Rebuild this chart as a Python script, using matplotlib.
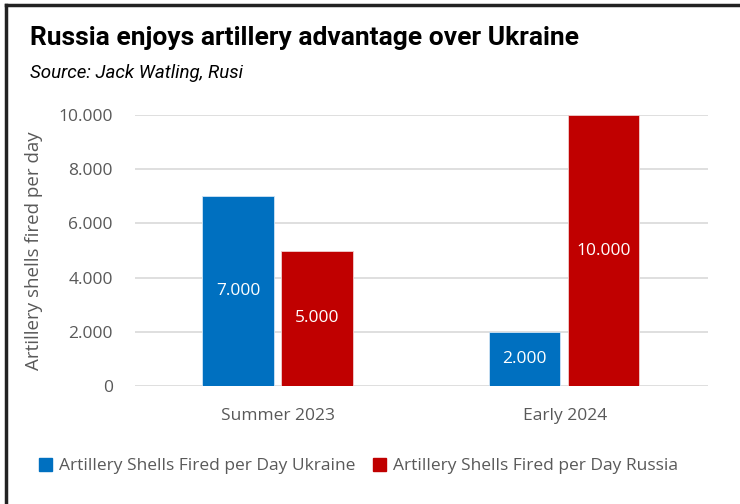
import numpy as np
import matplotlib
matplotlib.use("Agg")
import matplotlib.pyplot as plt
from matplotlib.lines import Line2D
from matplotlib.patches import Patch

# data
periods = ["Summer 2023", "Early 2024"]
ukraine = [7000, 2000]
russia = [5000, 10000]
series_names = ["Artillery Shells Fired per Day Ukraine",
                "Artillery Shells Fired per Day Russia"]
yticks = [0, 2000, 4000, 6000, 8000, 10000]

blue = "#0070C0"
red = "#C00000"
grey = "#595959"

plt.rcParams['font.family'] = ['Open Sans', 'DejaVu Sans']

fig = plt.figure(figsize=(7.4, 5.04), dpi=100)
ax = fig.add_axes([0.1824, 0.2341, 0.7743, 0.5377])

x = np.arange(len(periods))
w = 0.25
b1 = ax.bar(x - 0.14, ukraine, w, color=blue, edgecolor="#d0e4f5", linewidth=0.6, zorder=3)
b2 = ax.bar(x + 0.135, russia, w, color=red, edgecolor="#f0d0d0", linewidth=0.6, zorder=3)

for bars, vals in ((b1, ukraine), (b2, russia)):
    for r, v in zip(bars, vals):
        ax.text(r.get_x() + r.get_width() / 2, v / 2, f"{v:,}".replace(",", "."),
                ha="center", va="center", color="white", fontsize=12.5, zorder=4)

ax.set_xlim(-0.5, 1.5)
ax.set_ylim(0, 10000)
ax.set_yticks(yticks)
ax.set_yticklabels([f"{t:,}".replace(",", ".") for t in yticks])
ax.set_xticks(x)
ax.set_xticklabels(periods)
ax.tick_params(axis="both", length=0, colors=grey, labelsize=12.5)
ax.tick_params(axis="y", pad=16)
ax.tick_params(axis="x", pad=16)
ax.yaxis.grid(True, color="#d9d9d9", linewidth=1.2, zorder=0)
ax.set_axisbelow(True)
for s in ax.spines.values():
    s.set_visible(False)
ax.set_ylabel("Artillery shells fired per day", color=grey, fontsize=13.5)
ax.yaxis.set_label_coords(-0.16, 0.5)

fig.text(0.041, 0.925, "Russia enjoys artillery advantage over Ukraine",
         fontsize=19, fontweight="bold", color="black", va="center",
         family=["Roboto", "DejaVu Sans"])
fig.text(0.041, 0.855, "Source: Jack Watling, Rusi", fontsize=13.5,
         style="italic", color="black", va="center",
         family=["Roboto", "DejaVu Sans"])

handles = [Patch(color=blue), Patch(color=red)]
fig.legend(handles, series_names, loc="center left", bbox_to_anchor=(0.032, 0.075),
           ncol=2, frameon=False, fontsize=12.5, handlelength=0.75, handleheight=0.75,
           handletextpad=0.4, columnspacing=1.0, labelcolor=grey)

# screenshot frame (left and top edges)
fig.add_artist(Line2D([0.008, 0.008], [0, 0.99], color="#222222", lw=2.5))
fig.add_artist(Line2D([0.008, 1.0], [0.99, 0.99], color="#222222", lw=2.5))

fig.savefig("out.png", dpi=100)
